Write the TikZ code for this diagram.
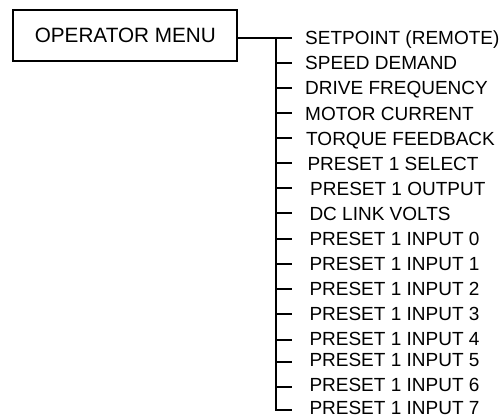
\documentclass[tikz,border=0pt]{standalone}
\usepackage{fontspec}
\setmainfont{Liberation Sans}
\begin{document}
\begin{tikzpicture}[x=1pt,y=-1pt,
  menubox/.style={draw, line width=2pt, minimum width=224pt, minimum height=51.3pt, inner sep=0pt, font=\fontsize{20.7}{21}\selectfont},
  item/.style={anchor=base west, inner sep=0pt, font=\fontsize{19}{19}\selectfont},
  conn/.style={line width=2pt}]
\useasboundingbox (0,0) rectangle (502,417);
\node[menubox] (box) at (125.3,35.7) {OPERATOR MENU};
\foreach \i/\y/\ty/\x/\t in {
  0/37.7/37.7/305/{SETPOINT (REMOTE)},
  1/62.7/62.7/305/{SPEED DEMAND},
  2/87.7/87.7/305/{DRIVE FREQUENCY},
  3/113.3/113.3/305/{MOTOR CURRENT},
  4/138.3/138.3/306/{TORQUE FEEDBACK},
  5/163.3/163.3/307.3/{PRESET 1 SELECT},
  6/188.3/189/310/{PRESET 1 OUTPUT},
  7/213.3/213.3/309.3/{DC LINK VOLTS},
  8/239/239/309.3/{PRESET 1 INPUT 0},
  9/264/264/309.3/{PRESET 1 INPUT 1},
  10/289/289/309.3/{PRESET 1 INPUT 2},
  11/314/314/309.3/{PRESET 1 INPUT 3},
  12/339.5/339/309.3/{PRESET 1 INPUT 4},
  13/361.5/360/309.3/{PRESET 1 INPUT 5},
  14/387/385/309.3/{PRESET 1 INPUT 6},
  15/409.7/407.5/309.3/{PRESET 1 INPUT 7}} {
  \coordinate (t\i) at (276,\y);
  \coordinate (e\i) at (291.7,\y);
  \node[item] (i\i) at (\x,\ty+6.8) {\t};
}
\draw[conn] (t0 -| box.east) -- (e0);
\draw[conn] (t0) -- (t15) -- (e15);
\foreach \i in {1,...,14} {
  \draw[conn] (t\i) -- (e\i);
}
\end{tikzpicture}
\end{document}
